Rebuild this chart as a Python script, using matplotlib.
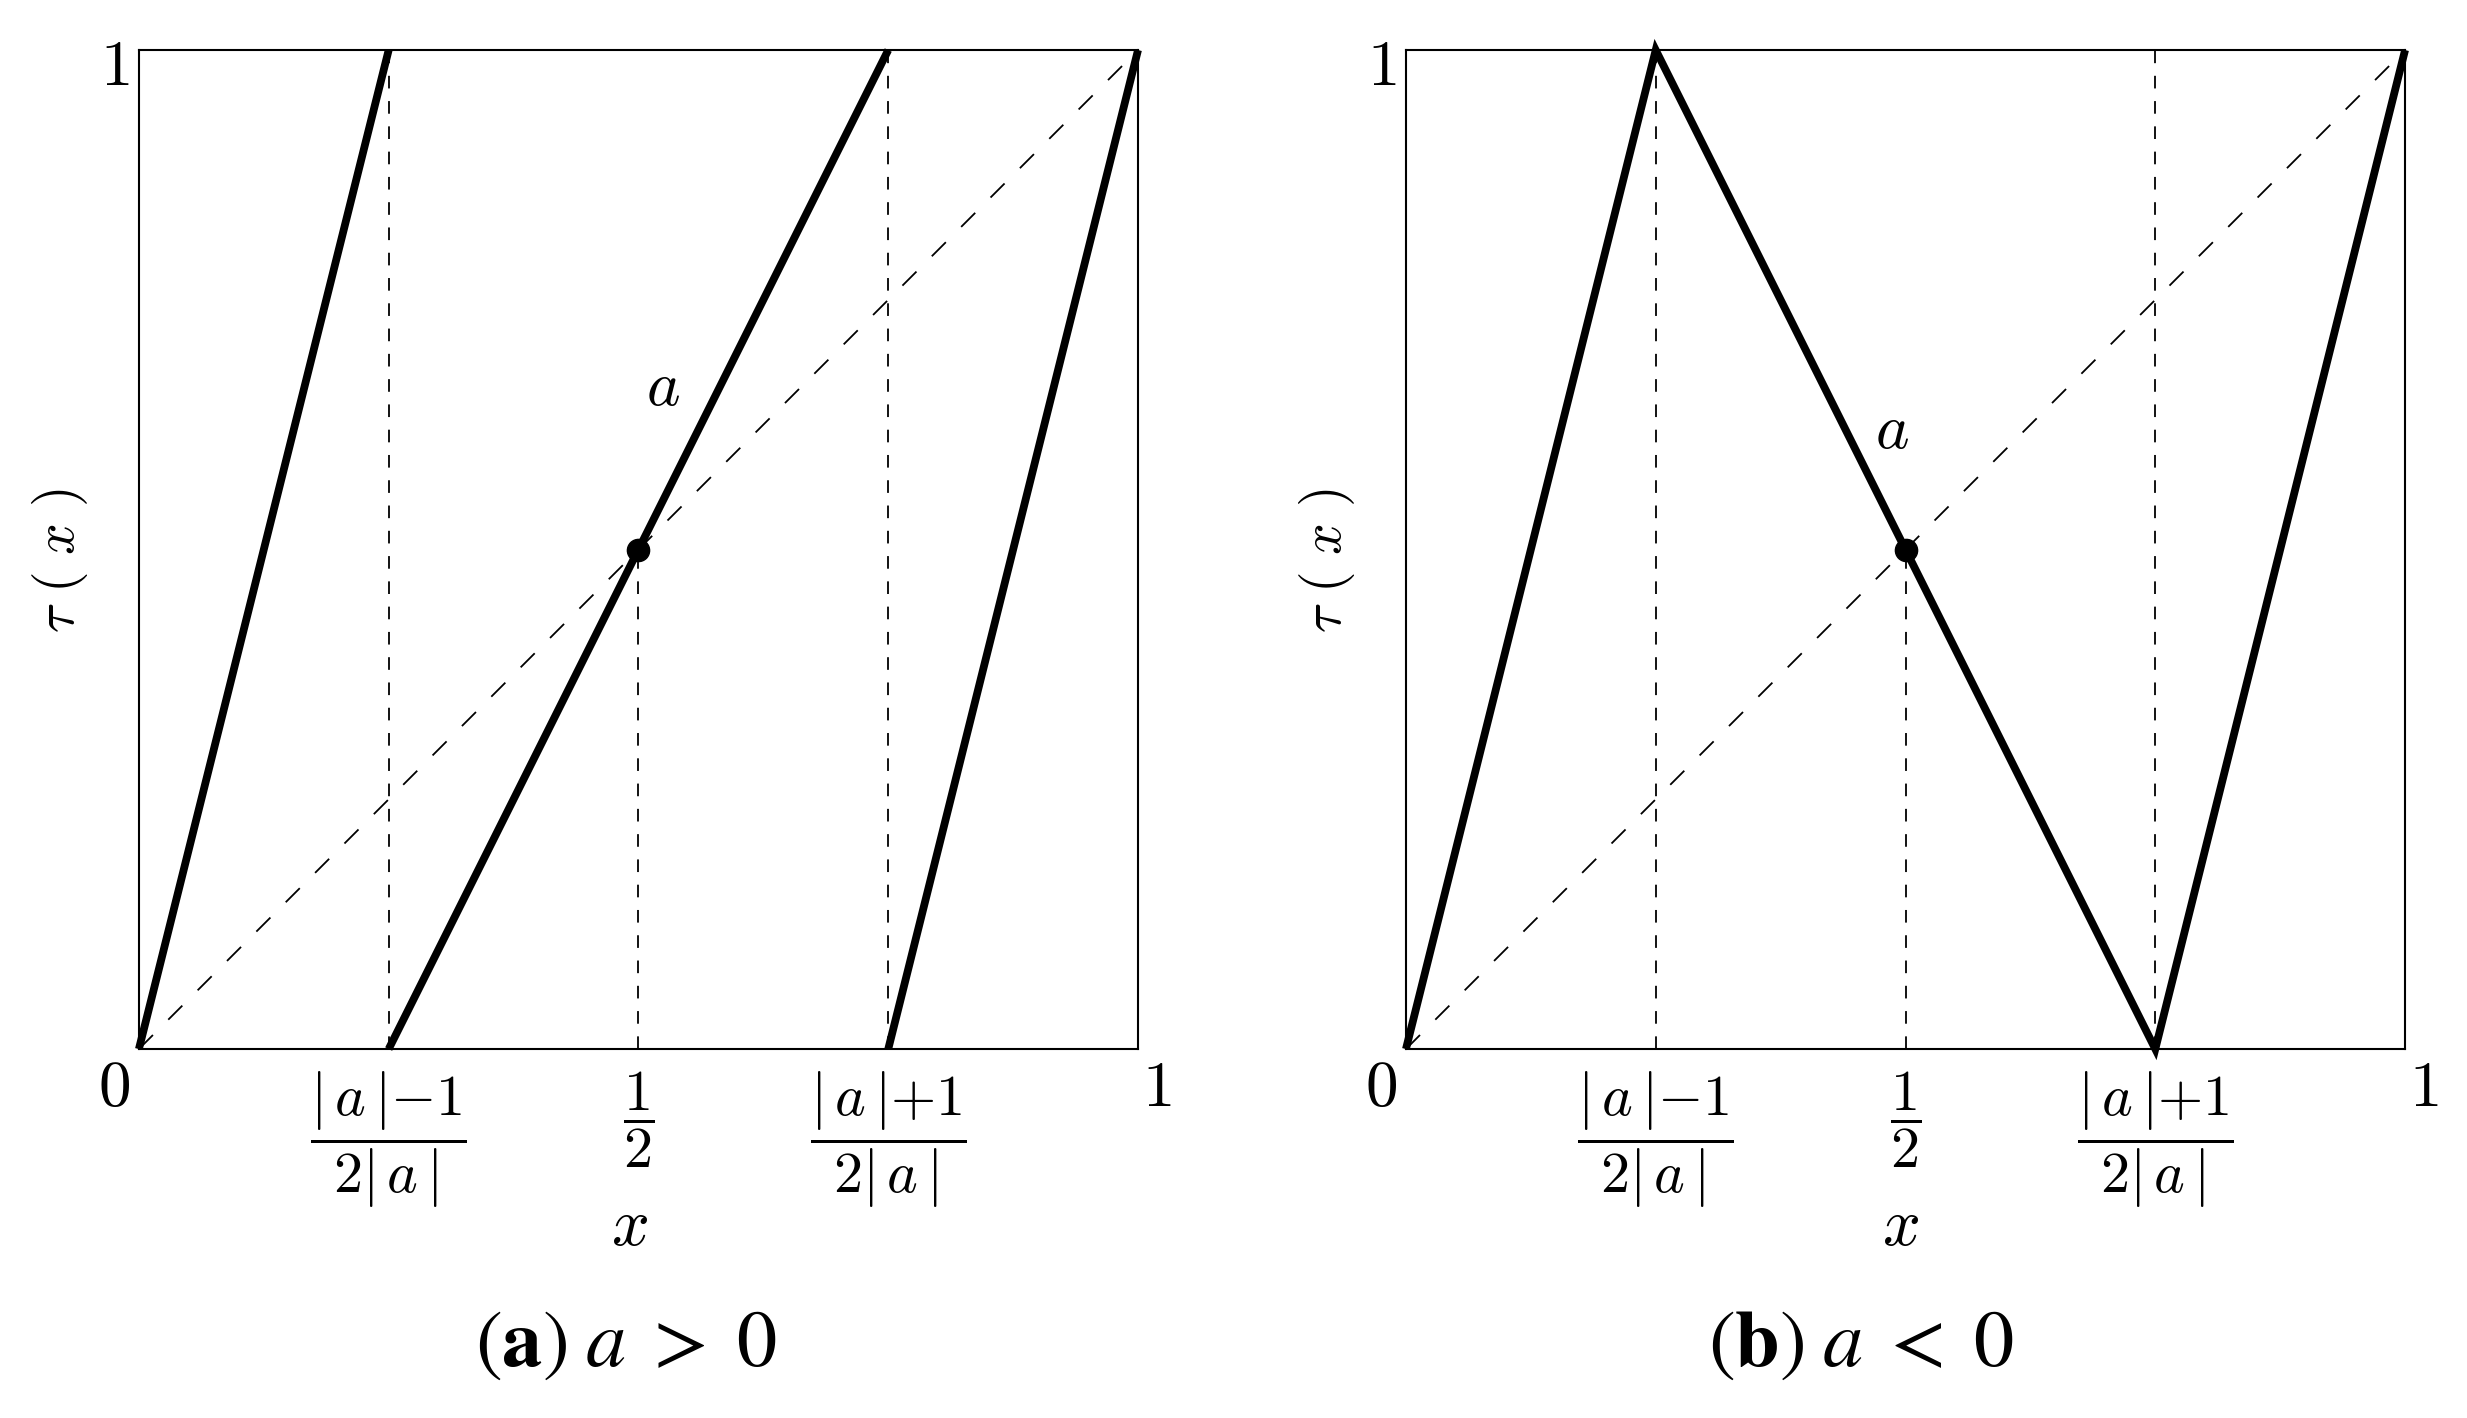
import matplotlib
matplotlib.use("Agg")
import matplotlib.pyplot as plt


# data: the map tau(x) for a = 2 (left) and a = -2 (right)
pos_branch_x = [[0.0, 0.25], [0.25, 0.75], [0.75, 1.0]]
pos_branch_y = [[0.0, 1.0], [0.0, 1.0], [0.0, 1.0]]
neg_x = [0.0, 0.25, 0.75, 1.0]
neg_y = [0.0, 1.0, 0.0, 1.0]
diag = [0.0, 1.0]
guide_x = [0.25, 0.5, 0.75]
guide_top = [1.0, 0.5, 1.0]
fixed_point = [0.5, 0.5]
frac_labels = [r'$\dfrac{|\,a\,|{-}1}{2|\,a\,|}$', r'$\dfrac{1}{2}$', r'$\dfrac{|\,a\,|{+}1}{2|\,a\,|}$']
captions = [r'$(\mathbf{a})\;a\;>\;0$', r'$(\mathbf{b})\;a\;<\;0$']
slope_label_pos = [(0.525, 0.662), (0.486, 0.619)]
caption_x = [0.487, 0.455]
xlabel_x = [0.491, 0.495]

plt.rcParams['mathtext.fontset'] = 'cm'
plt.rcParams['font.family'] = 'DejaVu Serif'

fig = plt.figure(figsize=(24.67, 14.18), dpi=100)
ax_a = fig.add_axes([0.0563, 0.2602, 0.405, 0.7045])
ax_b = fig.add_axes([0.5699, 0.2602, 0.405, 0.7045])


def draw_panel(ax, branches_x, branches_y, idx):
    ax.set_xlim(0, 1)
    ax.set_ylim(0, 1)
    for s in ax.spines.values():
        s.set_linewidth(1.5)

    # guides
    ax.plot(diag, diag, color='black', lw=1.3, ls=(0, (11, 12)))
    for gx, gt in zip(guide_x, guide_top):
        ax.plot([gx, gx], [0, gt], color='black', lw=1.3, ls=(0, (7, 7)))

    for bx, by in zip(branches_x, branches_y):
        ax.plot(bx, by, color='black', lw=5.6, solid_capstyle='butt',
                solid_joinstyle='miter', clip_on=False)
    ax.plot(fixed_point[0], fixed_point[1], 'o', color='black', ms=16, clip_on=False)

    ax.text(slope_label_pos[idx][0], slope_label_pos[idx][1], r'$a$',
            fontsize=46, ha='center', va='center')

    # tick labels
    ax.set_yticks([])
    ax.set_xticks(guide_x, frac_labels, fontsize=42)
    ax.tick_params(axis='x', length=0, pad=15)

    ax.annotate(r'$0$', xy=(0, 0), xytext=(-25, -39), textcoords='offset pixels',
                fontsize=47, ha='center', va='center')
    ax.annotate(r'$1$', xy=(1, 0), xytext=(19, -39), textcoords='offset pixels',
                fontsize=47, ha='center', va='center')
    ax.annotate(r'$1$', xy=(0, 1), xytext=(-24, -17), textcoords='offset pixels',
                fontsize=47, ha='center', va='center')

    ax.text(xlabel_x[idx], -0.178, r'$x$', transform=ax.transAxes,
            fontsize=48, ha='center', va='center')
    ax.text(-0.079, 0.489, r'$\tau\ (\ x\ )$', transform=ax.transAxes,
            fontsize=40, ha='center', va='center', rotation=90)
    ax.text(caption_x[idx], -0.295, captions[idx], transform=ax.transAxes,
            fontsize=58, ha='center', va='center', math_fontfamily='stix')


draw_panel(ax_a, pos_branch_x, pos_branch_y, 0)
draw_panel(ax_b, [neg_x], [neg_y], 1)

fig.savefig('out.png', dpi=100, facecolor='white')
